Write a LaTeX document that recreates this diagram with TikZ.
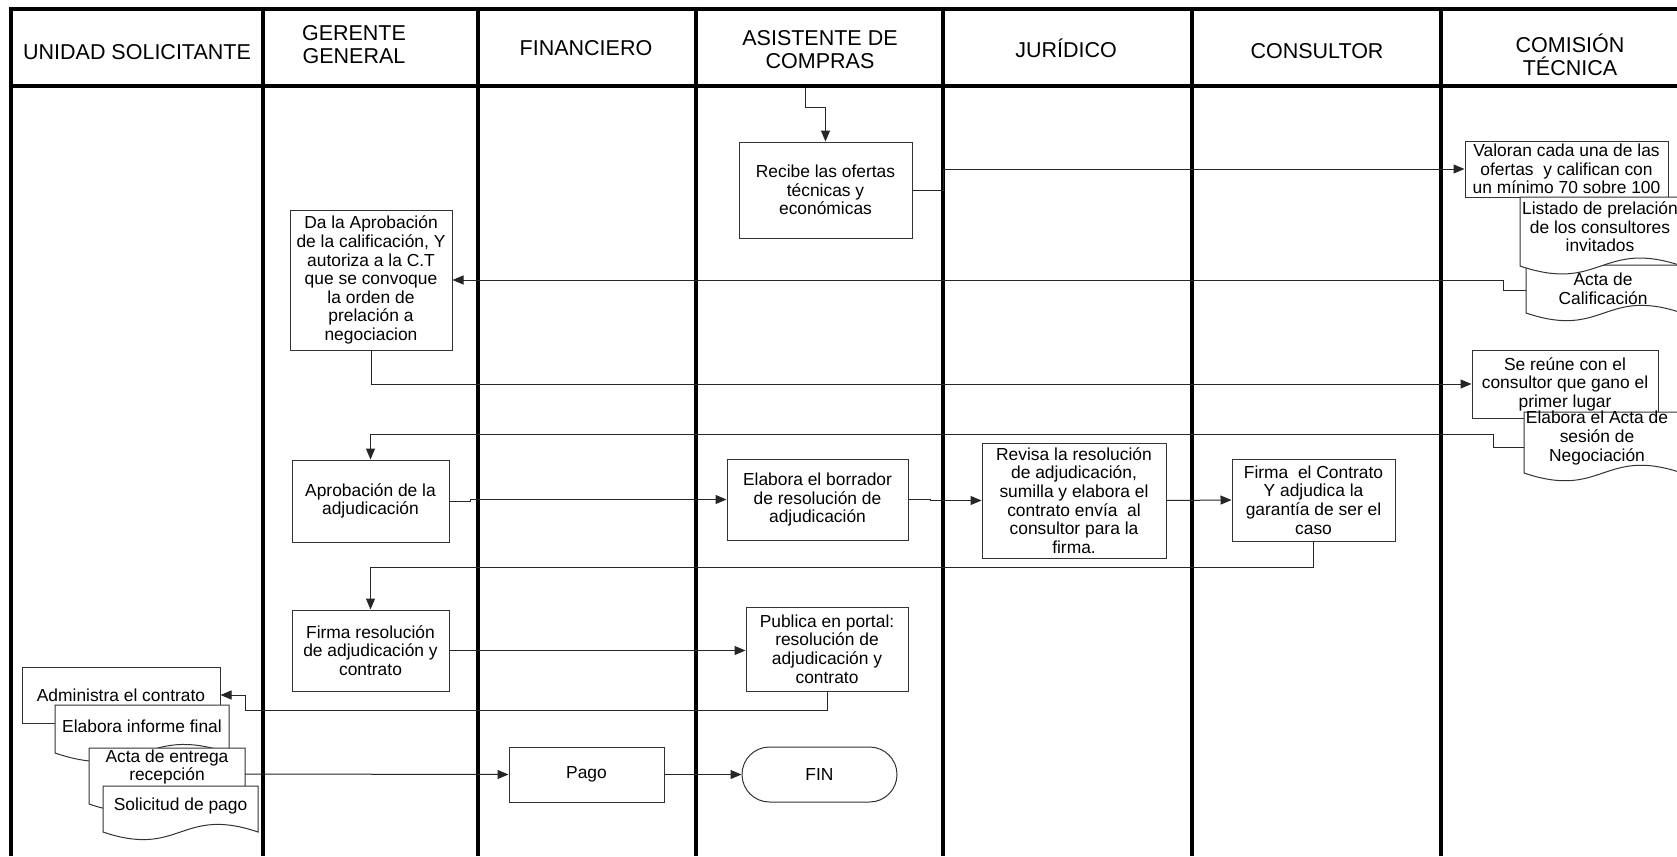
\documentclass[tikz,border=0pt]{standalone}
\usepackage{fontspec}
\setmainfont{Liberation Sans}
\usetikzlibrary{arrows.meta}
\newcommand\bodyfnt{\fontsize{17.4}{18.6}\selectfont}
\newcommand\headfnt{\fontsize{21.5}{23}\selectfont}
\tikzset{
  lane/.style={line width=4.5pt, black},
  boxline/.style={draw=black!80, line width=1pt},
  box/.style={boxline, fill=white, align=center, inner sep=1pt, font=\bodyfnt},
  doctext/.style={align=center, inner sep=0pt, font=\bodyfnt},
  headtext/.style={align=center, inner sep=0pt, font=\headfnt},
  conn/.style={draw=black!85, line width=1pt},
  arr/.style={conn, -{Triangle[length=11pt,width=9pt]}}
}
\newcommand\docshp[8]{%
  \pgfmathsetmacro\dsmx{(#2+#4)/2}%
  \pgfmathsetmacro\dsa{0.17*(#4-#2)}%
  \draw[boxline, fill=white] (#2,#3) -- (#4,#3) -- (#4,#5) .. controls (\dsmx,#5-\dsa) and (\dsmx,#5+\dsa) .. (#2,#5) -- cycle;
  \node[doctext] (#1) at (#6,#7) {#8};}
\begin{document}
\begin{tikzpicture}[x=1pt,y=-1pt]
\useasboundingbox (0,0) rectangle (1677,856);
\fill[white] (0,0) rectangle (1677,856);

% swimlane frame
\draw[lane] (9,9) -- (1677,9);
\draw[lane] (9,86) -- (1677,86);
\foreach \lx in {11,263,478,696,943,1192,1441}{\draw[lane] (\lx,7) -- (\lx,856);}

% headers
\node[headtext] (hUS) at (137,52) {UNIDAD SOLICITANTE};
\node[headtext] (hGG) at (354,45) {GERENTE\\GENERAL};
\node[headtext] (hFI) at (586,48) {FINANCIERO};
\node[headtext] (hAC) at (820,50) {ASISTENTE DE\\COMPRAS};
\node[headtext] (hJU) at (1066,48) {JURÍDICO};
\node[headtext] (hCO) at (1317,51) {CONSULTOR};
\node[headtext] (hCT) at (1570,55) {COMISIÓN\\TÉCNICA};

% process boxes
\node[box, minimum width=173, minimum height=96] (recibe) at (825.5,190) {Recibe las ofertas\\técnicas y\\económicas};
\node[box, minimum width=203, minimum height=56] (valoran) at (1566.5,169) {Valoran cada una de las\\ofertas~ y califican con\\un mínimo 70 sobre 100};
\docshp{actacal}{1526}{265}{1682}{313}{1603}{289}{Acta de\\Calificación}
\docshp{listado}{1520}{197}{1682}{266}{1600}{227}{Listado de prelación\\de los consultores\\invitados}
\node[box, minimum width=162, minimum height=140] (dala) at (371,280) {Da la Aprobación\\de la calificación, Y\\autoriza a la C.T\\que se convoque\\la orden de\\prelación a\\negociacion};
\node[box, minimum width=186, minimum height=68] (sereune) at (1565,384) {Se reúne con el\\consultor que gano el\\primer lugar};
\docshp{elabacta}{1524}{412}{1682}{473}{1597}{438}{Elabora el Acta de\\sesión de\\Negociación}
\node[box, minimum width=157, minimum height=82] (aprob) at (370.5,501) {Aprobación de la\\adjudicación};
\node[box, minimum width=181, minimum height=81] (borrador) at (817.5,499.5) {Elabora el borrador\\de resolución de\\adjudicación};
\node[box, minimum width=184, minimum height=115] (revisa) at (1074,500.5) {Revisa la resolución\\de adjudicación,\\sumilla y elabora el\\contrato envía~ al\\consultor para la\\firma.};
\node[box, minimum width=163, minimum height=82] (firmacon) at (1313.5,500) {Firma~ el Contrato\\Y adjudica la\\garantía de ser el\\caso};
\node[box, minimum width=157, minimum height=81] (firmares) at (370.5,650.5) {Firma resolución\\de adjudicación y\\contrato};
\node[box, minimum width=162, minimum height=84] (publica) at (827,649) {Publica en portal:\\resolución de\\adjudicación y\\contrato};
\node[box, minimum width=198, minimum height=56] (admin) at (121,695) {Administra el contrato};
\docshp{informe}{55}{705}{229}{753}{142}{726}{Elabora informe final}
\docshp{actaent}{89}{748}{245}{804}{167}{767}{Acta de entrega\\recepción}
\docshp{solicitud}{103}{786}{258}{832}{180.5}{806}{Solicitud de pago}
\node[box, minimum width=155, minimum height=55] (pago) at (586.5,774.5) {Pago};
\node[box, minimum width=155, minimum height=55, rounded corners=27.5pt] (fin) at (819.5,774.5) {FIN};

% free ends
\coordinate (start) at (805,88);
\coordinate (actacalW) at (1526,290);
\coordinate (elabactaW) at (1524,447);
\coordinate (actaentE) at (245,774);

% connectors
\draw[arr] (start) -- ++(0,20) -| (recibe.north);
\draw[arr] (recibe.east) -| (943,169) -- (valoran.west);
\draw[arr] (actacalW) -- (1503,290) -- (1503,280) -- (dala.east);
\draw[arr] (dala.south) |- (sereune.west);
\draw[arr] (elabactaW) -- (1493,447) -- (1493,434) -| (aprob.north);
\draw[arr] (aprob.east) -- ++(21,0) |- (borrador.west);
\draw[arr] (borrador.east) -- ++(22,0) |- (revisa.west);
\draw[arr] (revisa.east) -- (firmacon.west);
\draw[arr] (firmacon.south) -- ++(0,26) -| (firmares.north);
\draw[arr] (firmares.east) -- (publica.west |- firmares.east);
\draw[arr] (publica.south) -- ++(0,19) -| (245,695) -- (admin.east);
\draw[arr] (actaentE) -- (pago.west);
\draw[arr] (pago.east) -- (fin.west);
\end{tikzpicture}
\end{document}
